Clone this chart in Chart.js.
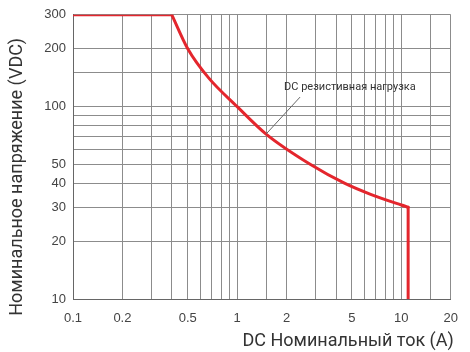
<!DOCTYPE html>
<html><head><meta charset="utf-8">
<script src="https://cdn.jsdelivr.net/npm/chart.js@4.4.1/dist/chart.umd.min.js"></script>
<style>html,body{margin:0;padding:0;background:#fff}#wrap{width:470px;height:352px}</style>
</head><body><div id="wrap"><canvas id="c" width="470" height="352"></canvas></div>
<script>
// Data (DC resistive load curve)
const flatCurrentA = [0.1, 0.4];
const flatVoltageV = [300, 300];
const curveCurrentA = [0.4, 0.5, 0.67, 1.0, 1.5, 2.8, 4.5, 6.5, 10, 11];
const curveVoltageV = [300, 200, 141, 100, 72, 50, 40, 35, 30.8, 30];
const cutoffCurrentA = [11, 11];
const cutoffVoltageV = [30, 10];
const xTickLabels = [0.1, 0.2, 0.5, 1, 2, 5, 10, 20];
const yTickLabels = [10, 20, 30, 40, 50, 100, 200, 300];
const xTitle = 'DC Номинальный ток (А)';
const yTitle = 'Номинальное напряжение (VDC)';
const curveLabel = 'DC резистивная нагрузка';
const curveLabelAnchor = {x: 1.5, y: 72};

const toPoints = (xs, ys) => xs.map((x, i) => ({x, y: ys[i]}));
const hasTick = (list, v) => list.some(t => Math.abs(t - v) / t < 1e-6);
const lineStyle = {
  borderColor: '#e4262d', borderWidth: 3, pointRadius: 0, fill: false,
  borderCapStyle: 'round', borderJoinStyle: 'round'
};

const annotationPlugin = {
  id: 'curveNote',
  afterDatasetsDraw(chart) {
    const {ctx, scales, chartArea} = chart;
    const tx = scales.x.getPixelForValue(curveLabelAnchor.x);
    const ty = scales.y.getPixelForValue(curveLabelAnchor.y);
    ctx.save();
    ctx.strokeStyle = '#666';
    ctx.lineWidth = 1;
    ctx.beginPath();
    ctx.moveTo(tx, ty);
    ctx.lineTo(tx + 34, ty - 37);
    ctx.stroke();
    ctx.fillStyle = '#333';
    ctx.font = '11px Roboto';
    ctx.textAlign = 'left';
    ctx.textBaseline = 'middle';
    ctx.fillText(curveLabel, tx + 18, ty - 47);
    // axis titles
    ctx.fillStyle = '#333';
    ctx.font = '18px Roboto';
    ctx.textBaseline = 'middle';
    ctx.textAlign = 'right';
    ctx.fillText(xTitle, chartArea.right + 3, 341);
    ctx.translate(17, (chartArea.top + chartArea.bottom) / 2 + 20);
    ctx.rotate(-Math.PI / 2);
    ctx.textAlign = 'center';
    ctx.fillText(yTitle, 0, 0);
    ctx.restore();
  }
};

new Chart(document.getElementById('c'), {
  type: 'line',
  data: {
    datasets: [
      Object.assign({data: toPoints(flatCurrentA, flatVoltageV), tension: 0}, lineStyle),
      Object.assign({data: toPoints(curveCurrentA, curveVoltageV), cubicInterpolationMode: 'monotone'}, lineStyle),
      Object.assign({data: toPoints(cutoffCurrentA, cutoffVoltageV), tension: 0}, lineStyle)
    ]
  },
  options: {
    responsive: false,
    animation: false,
    devicePixelRatio: 1,
    layout: {padding: {top: 14, right: 8, left: 0, bottom: 0}},
    plugins: {legend: {display: false}, tooltip: {enabled: false}},
    scales: {
      x: {
        type: 'logarithmic',
        min: 0.1, max: 20,
        afterFit(s) { s.height = 53; },
        grid: {color: '#8c8c8c', lineWidth: 1, drawTicks: false},
        border: {display: true, color: '#666'},
        ticks: {
          autoSkip: false, maxRotation: 0, padding: 12,
          color: '#444', font: {family: 'Liberation Sans', size: 13},
          callback: (v) => hasTick(xTickLabels, v) ? String(v) : ''
        }
      },
      y: {
        type: 'logarithmic',
        min: 10, max: 300,
        afterFit(s) { s.width = 73; },
        grid: {color: '#8c8c8c', lineWidth: 1, drawTicks: false},
        border: {display: true, color: '#666'},
        ticks: {
          autoSkip: false, padding: 7,
          color: '#444', font: {family: 'Liberation Sans', size: 13},
          callback: (v) => hasTick(yTickLabels, v) ? String(v) : ''
        }
      }
    }
  },
  plugins: [annotationPlugin]
});
</script></body></html>
